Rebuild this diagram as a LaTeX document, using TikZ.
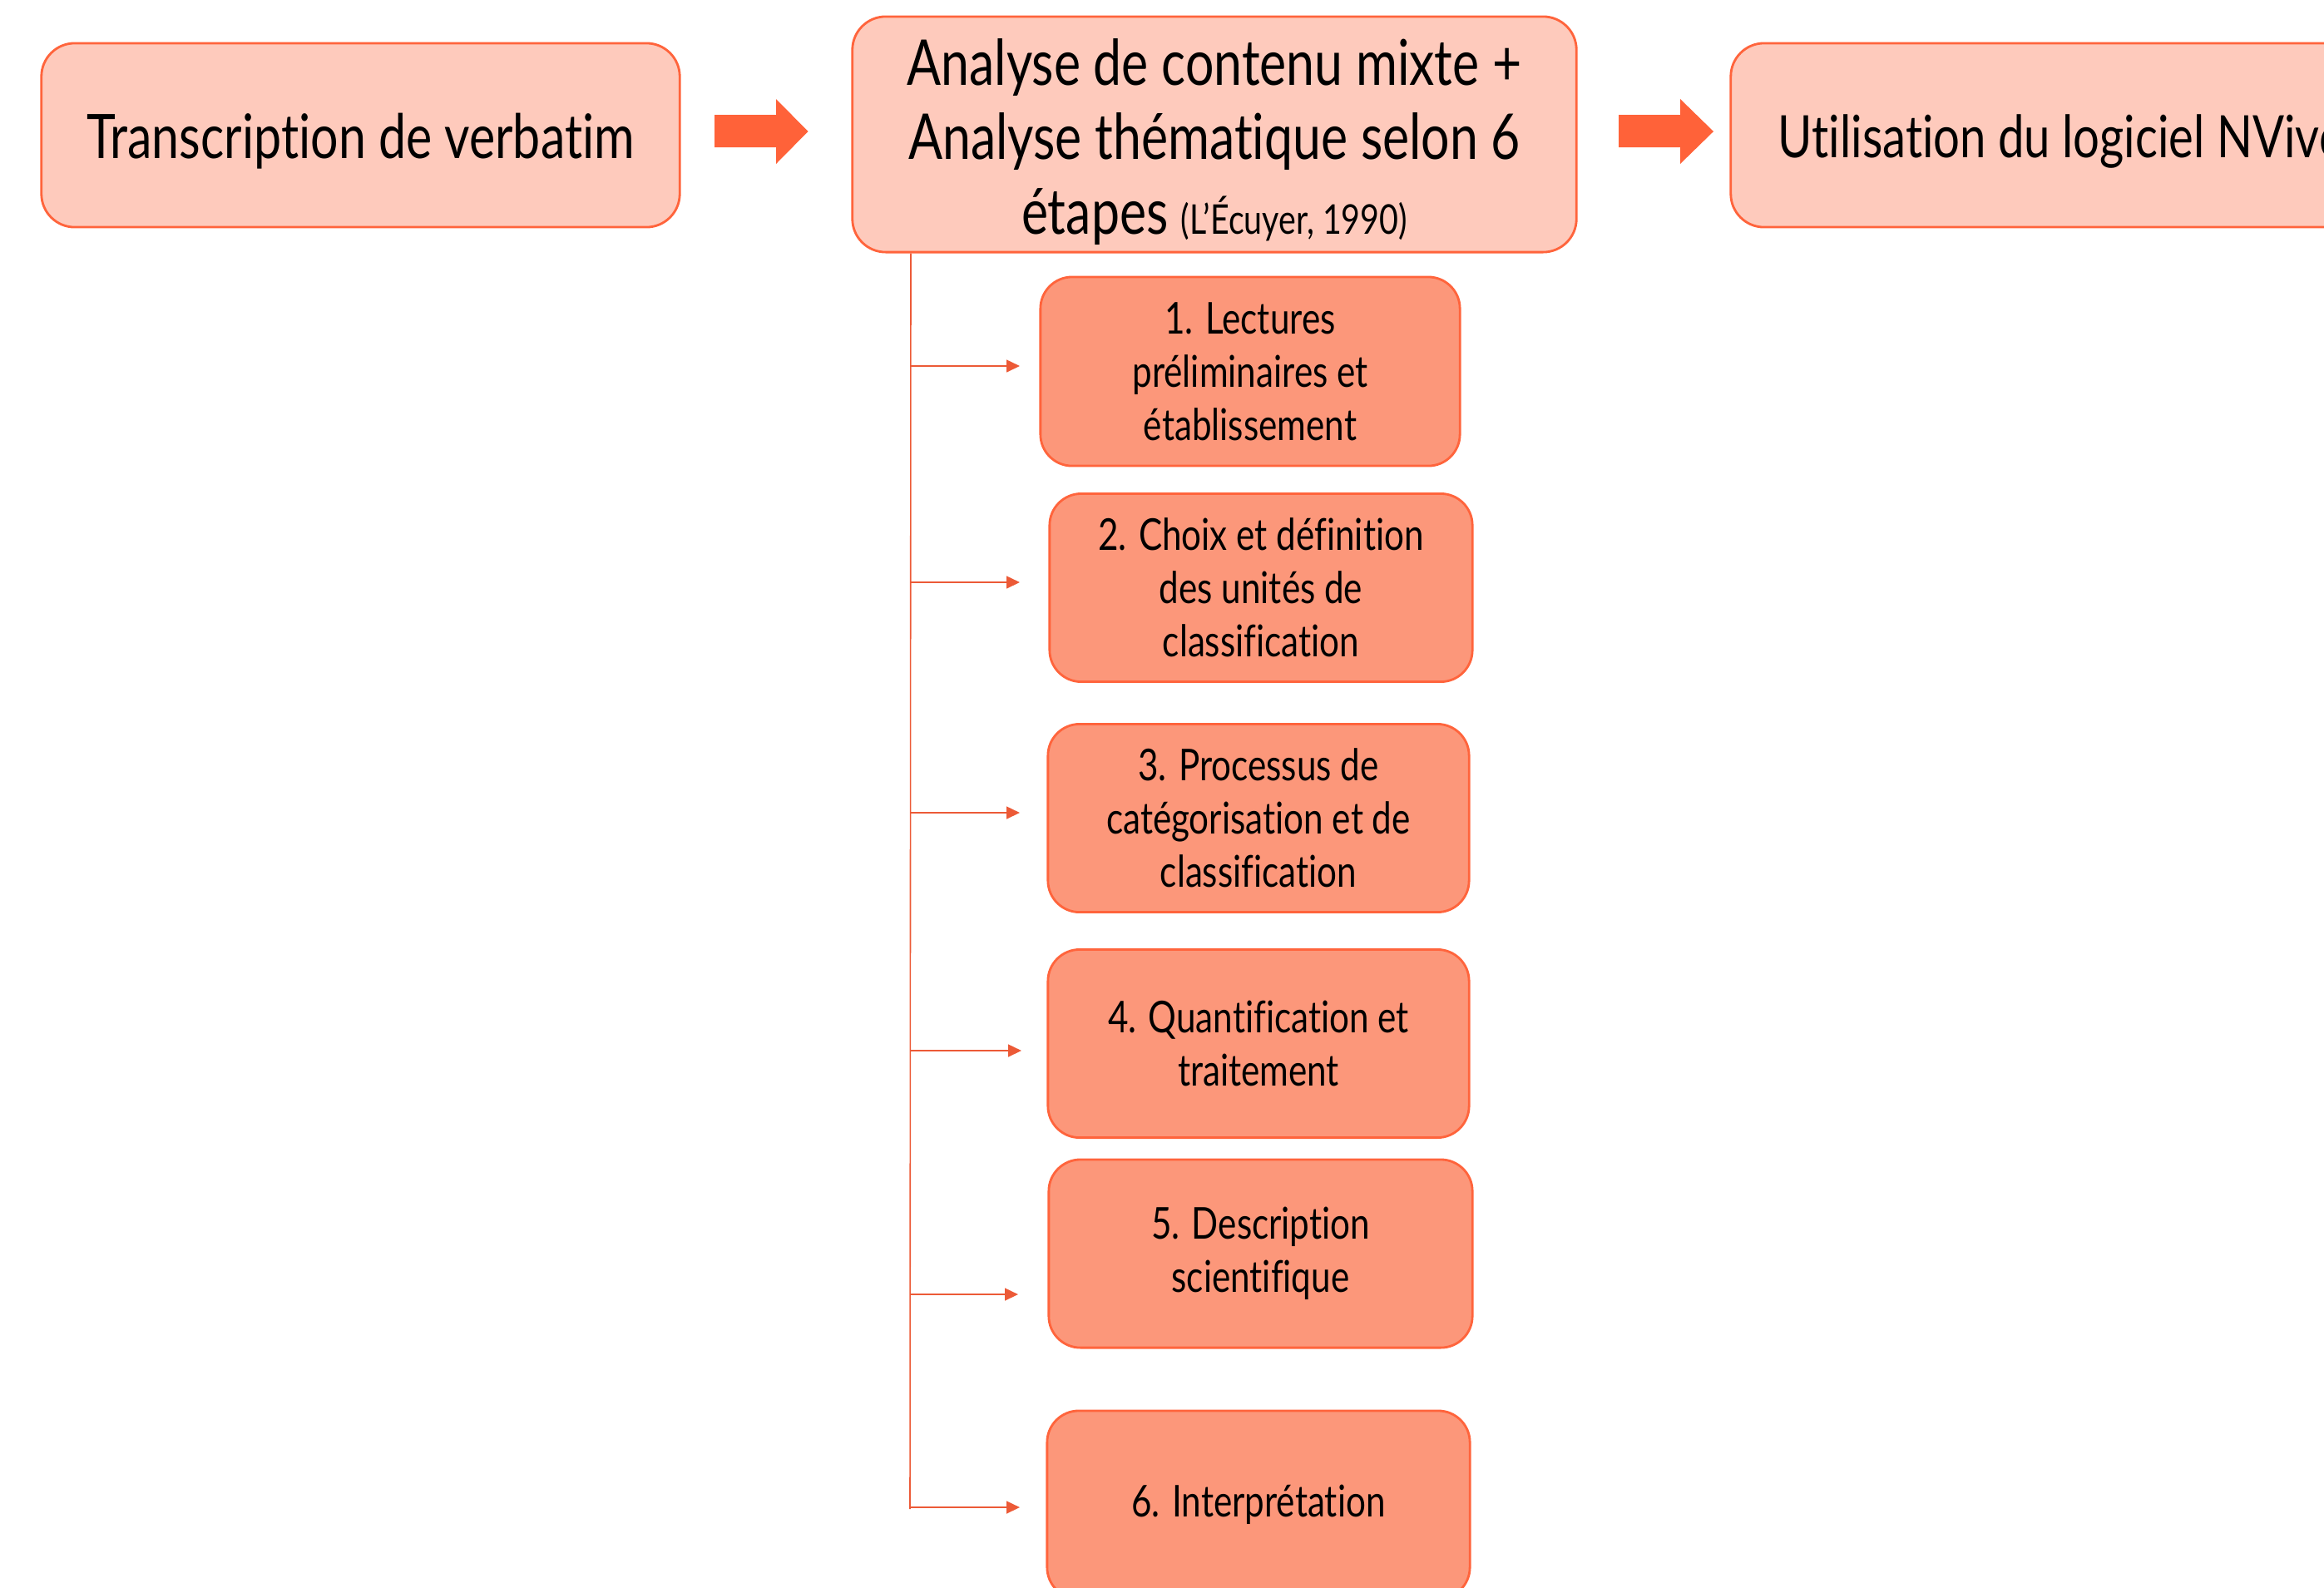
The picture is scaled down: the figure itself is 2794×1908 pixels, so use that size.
\documentclass[tikz,border=0pt]{standalone}
\usepackage{fontspec}
\setmainfont{Lato}[FakeStretch=0.8, Ligatures=NoCommon]
\usetikzlibrary{arrows.meta}
\definecolor{topfill}{HTML}{FECABC}
\definecolor{stepfill}{HTML}{FC977A}
\definecolor{edge}{HTML}{FF643C}
\definecolor{bigarrow}{HTML}{FF6239}
\definecolor{thin}{HTML}{EC5A37}
\begin{document}
\begin{tikzpicture}[x=0.01cm,y=-0.01cm,
  topbox/.style={draw=edge, fill=topfill, line width=0.8pt, rounded corners=0.4cm, inner sep=0pt},
  toptext/.style={align=center, inner sep=0pt, font=\fontsize{21}{25.4}\selectfont},
  stepbox/.style={draw=edge, fill=stepfill, line width=0.8pt, rounded corners=0.38cm, align=center, minimum width=5.06cm, minimum height=2.26cm, inner sep=0pt, font=\fontsize{15}{18.2}\selectfont},
  conn/.style={draw=thin, line width=0.45pt, -{Triangle[length=0.16cm,width=0.15cm]}},
  trunk/.style={draw=thin, line width=0.45pt},
  big/.style={fill=bigarrow}]
\useasboundingbox (0,0) rectangle (2794,1908);
\begin{scope}
\clip (0,0) rectangle (2794,1908);
% top row
\node[topbox, minimum width=7.67cm, minimum height=2.21cm] (b1) at (433.5,162.5) {};
\node[toptext] (b1t) at ([yshift=-0.07cm]b1.center) {Transcription de verbatim};
\node[topbox, minimum width=8.70cm, minimum height=2.83cm] (b2) at (1460,161.5) {};
\node[toptext, font=\fontsize{21.6}{25.4}\selectfont] (b2t) at ([yshift=-0.09cm]b2.center) {Analyse de contenu mixte +\\Analyse thématique selon 6\\étapes {\fontsize{14}{15}\selectfont (L’Écuyer, 1990)}};
\node[topbox, minimum width=7.67cm, minimum height=2.21cm] (b3) at (2464.5,162.5) {};
\node[toptext, anchor=west, font=\fontsize{20}{24}\selectfont] (b3t) at ([yshift=-0.07cm]b3.west -| 2137,0) {Utilisation du logiciel NVivo};
% big arrows
\fill[big] (859,138) -- (933,138) -- (933,119) -- (971.5,158) -- (933,197) -- (933,177) -- (859,177) -- cycle;
\fill[big] (1946,138) -- (2020,138) -- (2020,119) -- (2060,158) -- (2020,197) -- (2020,177) -- (1946,177) -- cycle;
% steps
\node[stepbox, minimum width=5.04cm, minimum height=2.27cm] (s1) at (1503,446.5) {1. Lectures\\préliminaires et\\établissement};
\node[stepbox, minimum width=5.08cm] (s2) at (1516,706.5) {2. Choix et définition\\des unités de\\classification};
\node[stepbox] (s3) at (1513,983.5) {3. Processus de\\catégorisation et de\\classification};
\node[stepbox] (s4) at (1513,1254.5) {4. Quantification et\\traitement};
\node[stepbox, minimum width=5.09cm] (s5) at (1515.5,1507) {5. Description\\scientifique};
\node[stepbox, minimum width=5.08cm] (s6) at (1513,1809) {6. Interprétation};
% trunk and branches
\coordinate (tTop) at (b2.south -| 1095,0);
\coordinate (tBot) at (1094,1814);
\path[trunk] (tTop) -- (tBot);
\coordinate (o1) at (1095,440);  \coordinate (e1) at (1226,440);
\coordinate (o2) at (1095,700);  \coordinate (e2) at (1226,700);
\coordinate (o3) at (1095,977);  \coordinate (e3) at (1226,977);
\coordinate (o4) at (1094,1263); \coordinate (e4) at (1228,1263);
\coordinate (o5) at (1094,1556); \coordinate (e5) at (1224,1556);
\coordinate (o6) at (1094,1812); \coordinate (e6) at (1226,1812);
\path[conn] (o1) -- (e1);
\path[conn] (o2) -- (e2);
\path[conn] (o3) -- (e3);
\path[conn] (o4) -- (e4);
\path[conn] (o5) -- (e5);
\path[conn] (o6) -- (e6);
\end{scope}
\end{tikzpicture}
\end{document}
